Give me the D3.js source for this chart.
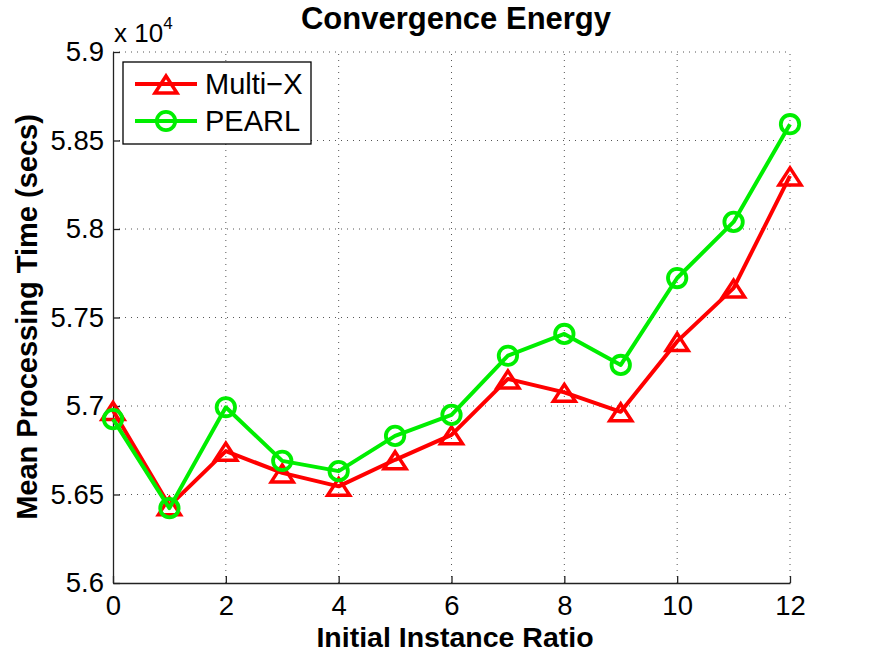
<!DOCTYPE html>
<html>
<head>
<meta charset="utf-8">
<script src="https://cdn.jsdelivr.net/npm/d3@7"></script>
<style>
  body { margin: 0; background: #fff; }
  text { font-family: "Liberation Sans", Arial, sans-serif; }
</style>
</head>
<body>
<div id="chart"></div>
<script>
// values are in units of 10^4 secs
var ratios = [0, 1, 2, 3, 4, 5, 6, 7, 8, 9, 10, 11, 12];
var multiX = [5.6975, 5.6436, 5.6745, 5.6622, 5.6546, 5.6696, 5.6837, 5.7153, 5.7077, 5.6967, 5.7365, 5.7666, 5.8300];
var pearl  = [5.6926, 5.6423, 5.6993, 5.6690, 5.6632, 5.6831, 5.6950, 5.7284, 5.7407, 5.7232, 5.7723, 5.8040, 5.8592];
var xTicks = [0, 2, 4, 6, 8, 10, 12];
var yTicks = [5.6, 5.65, 5.7, 5.75, 5.8, 5.85, 5.9];
var seriesNames = ["Multi\u2212X", "PEARL"];

var width = 875, height = 657;
var margin = {left: 113, right: 85, top: 52, bottom: 74};

var svg = d3.select("#chart").append("svg")
    .attr("width", width)
    .attr("height", height);

var x = d3.scaleLinear().domain([0, 12]).range([margin.left, width - margin.right]);
var y = d3.scaleLinear().domain([5.6, 5.9]).range([height - margin.bottom, margin.top]);

// Dotted grid lines, matlab style.
var grid = svg.append("g").attr("class", "grid");
grid.selectAll("line.gx")
    .data(xTicks.slice(1))
    .enter().append("line")
    .attr("x1", function(d){ return x(d); })
    .attr("x2", function(d){ return x(d); })
    .attr("y1", y(5.6))
    .attr("y2", y(5.9));
grid.selectAll("line.gy")
    .data(yTicks.slice(1))
    .enter().append("line")
    .attr("x1", x(0))
    .attr("x2", x(12))
    .attr("y1", function(d){ return y(d); })
    .attr("y2", function(d){ return y(d); });
grid.selectAll("line")
    .style("stroke", "#555")
    .style("stroke-width", 1)
    .style("stroke-dasharray", "1,5");

// Axes with inward ticks.
var xAxis = d3.axisBottom(x).tickValues(xTicks).tickSizeInner(-7).tickSizeOuter(0).tickPadding(12);
var yAxis = d3.axisLeft(y).tickValues(yTicks).tickSizeInner(-7).tickSizeOuter(0).tickPadding(9)
    .tickFormat(function(d){ return String(+d.toFixed(2)); });

var gx = svg.append("g")
    .attr("transform", "translate(0," + y(5.6) + ")")
    .call(xAxis);
var gy = svg.append("g")
    .attr("transform", "translate(" + x(0) + ",0)")
    .call(yAxis);

[gx, gy].forEach(function(g){
    g.attr("font-family", null).attr("font-size", null);
    g.select(".domain").style("stroke", "#222").style("stroke-width", 1.3);
    g.selectAll(".tick line").style("stroke", "#222").style("stroke-width", 1.3);
    g.selectAll(".tick text")
        .style("font-size", "27.5px")
        .style("fill", "#000");
});
gx.selectAll(".tick text").attr("dy", "0.71em");

// Exponent label above the y axis.
svg.append("text")
    .attr("x", x(0) + 1)
    .attr("y", 42)
    .style("font-size", "26px")
    .text("x 10")
    .append("tspan")
    .attr("dy", -13)
    .style("font-size", "17px")
    .text("4");

// Title and axis labels.
svg.append("text")
    .attr("x", 456)
    .attr("y", 29)
    .attr("text-anchor", "middle")
    .style("font-size", "31px")
    .style("font-weight", "bold")
    .text("Convergence Energy");

svg.append("text")
    .attr("x", 455)
    .attr("y", 647)
    .attr("text-anchor", "middle")
    .style("font-size", "28.5px")
    .style("font-weight", "bold")
    .text("Initial Instance Ratio");

svg.append("text")
    .attr("transform", "translate(37," + 317 + ") rotate(-90)")
    .attr("text-anchor", "middle")
    .style("font-size", "29px")
    .style("font-weight", "bold")
    .text("Mean Processing Time (secs)");

// Markers.
var triangle = "M0,-8 L11,9 L-11,9 Z";
function drawMarker(g, kind, color){
    if (kind === "tri") {
        g.append("path")
            .attr("d", triangle)
            .style("fill", "none")
            .style("stroke", color)
            .style("stroke-width", 3.5)
            .style("stroke-linejoin", "miter");
    } else {
        g.append("circle")
            .attr("r", 9.2)
            .style("fill", "none")
            .style("stroke", color)
            .style("stroke-width", 3.8);
    }
}

var line = d3.line()
    .x(function(d){ return x(d[0]); })
    .y(function(d){ return y(d[1]); });

var series = [
    {name: seriesNames[0], values: multiX, color: "#ff0000", marker: "tri"},
    {name: seriesNames[1], values: pearl, color: "#00ee00", marker: "circ"}
];

series.forEach(function(s){
    var pts = d3.zip(ratios, s.values);
    svg.append("path")
        .datum(pts)
        .attr("d", line)
        .style("fill", "none")
        .style("stroke", s.color)
        .style("stroke-width", 4)
        .style("stroke-linejoin", "round");
    pts.forEach(function(p){
        var g = svg.append("g").attr("transform", "translate(" + x(p[0]) + "," + y(p[1]) + ")");
        drawMarker(g, s.marker, s.color);
    });
});

// Legend.
var legend = svg.append("g").attr("transform", "translate(123,62)");
legend.append("rect")
    .attr("width", 188)
    .attr("height", 82)
    .style("fill", "#fff")
    .style("stroke", "#000")
    .style("stroke-width", 1.3);
series.forEach(function(s, i){
    var ly = 22 + i * 37;
    legend.append("line")
        .attr("x1", 12).attr("x2", 74)
        .attr("y1", ly).attr("y2", ly)
        .style("stroke", s.color)
        .style("stroke-width", 4);
    drawMarker(legend.append("g").attr("transform", "translate(43," + ly + ")"), s.marker, s.color);
    legend.append("text")
        .attr("x", 82)
        .attr("y", ly + 10)
        .style("font-size", "29px")
        .text(s.name);
});
</script>
</body>
</html>
